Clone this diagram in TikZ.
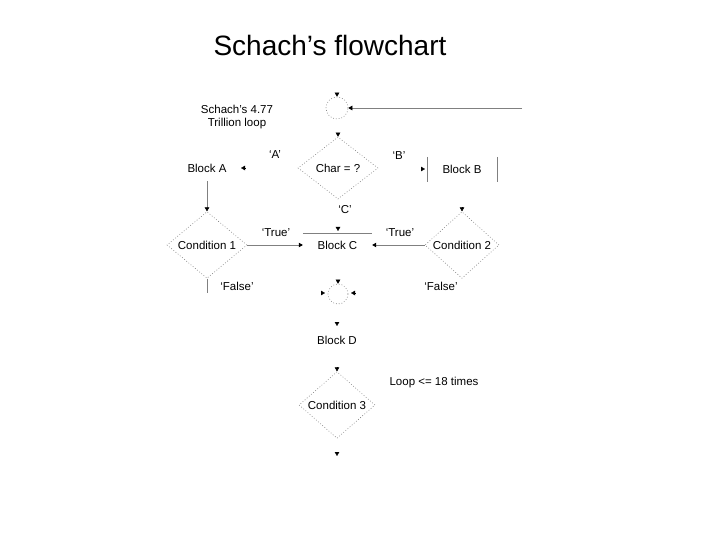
\documentclass[tikz,border=0pt]{standalone}
\usepackage{fontspec}
\setmainfont{Liberation Sans}
\usetikzlibrary{shapes.geometric,arrows.meta,calc}
\begin{document}
\begin{tikzpicture}[x=1pt,y=-1pt,
  lbl/.style={font=\fontsize{11.5}{13}\selectfont, inner sep=0pt},
  dmd/.style={diamond, draw=gray, dash pattern=on 0.8pt off 2pt, line width=0.6pt, minimum width=80pt, minimum height=62pt, inner sep=0pt, font=\fontsize{11.5}{13}\selectfont},
  crc/.style={circle, draw=gray, dash pattern=on 0.8pt off 2pt, line width=0.6pt, minimum size=22pt, inner sep=0pt},
  tip/.style={-{Triangle[length=4pt,width=4.5pt]}, black},
  wire/.style={draw=gray, line width=0.6pt},
  wtip/.style={wire, -{Triangle[length=4pt,width=4.5pt,color=black]}},
]
\useasboundingbox (0,0) rectangle (720,540);
\node[font=\fontsize{28}{30}\selectfont] (title) at (330,45) {Schach’s flowchart};
\node[crc] (lp) at (337,108) {};
\node[lbl, align=center] (tl) at (237,117) {Schach’s 4.77\\Trillion loop};
\node[dmd] (chr) at (338,168) {Char = ?};
\node[lbl] (qa) at (275,155) {‘A’};
\node[lbl] (qb) at (399,156) {‘B’};
\node[lbl, minimum height=26pt] (ba) at (207,168) {Block A};
\node[lbl, minimum width=70pt, minimum height=25pt] (bb) at (462,169.5) {Block B};
\node[lbl] (qc) at (345,210) {‘C’};
\node[dmd] (c1) at (207,245) {Condition 1};
\node[lbl, minimum width=69pt, minimum height=24pt] (bc) at (337.5,245) {Block C};
\node[dmd, minimum width=74pt] (c2) at (462,245) {Condition 2};
\node[lbl] (t1) at (276,233) {‘True’};
\node[lbl] (t2) at (400,233) {‘True’};
\node[lbl] (f1) at (237,286) {‘False’};
\node[lbl] (f2) at (441,286) {‘False’};
\node[crc, minimum size=20pt] (sc) at (338,294) {};
\node[lbl] (bd) at (337,340) {Block D};
\node[dmd, minimum width=76pt] (c3) at (337,405) {Condition 3};
\node[lbl] (lpl) at (434,383) {Loop <= 18 times};
\coordinate (rin) at (522,108);
\coordinate (c1out) at (207,293);
\coordinate (tA) at (241,168);
\coordinate (tB) at (425,169);
\coordinate (tBC) at (338,231);
\coordinate (tCl) at (325,293);
\coordinate (tCr) at (351,293);
\coordinate (tD) at (337,326);
\coordinate (tE) at (337,456);
\draw[wtip] (rin) -- (lp.east);
\draw[wtip] (ba.south) -- (c1.north);
\draw[wire] (c1.south) -- (c1out);
\draw[wtip] (c1.east) -- (bc.west);
\draw[wtip] (c2.west) -- (bc.east);
\draw[wire] (bc.north west) -- (bc.north east);
\draw[wire] (bb.north west) -- (bb.south west);
\draw[wire] (bb.north east) -- (bb.south east);
\draw[tip] ($(lp.north)+(0,-4)$) -- (lp.north);
\draw[tip] ($(chr.north)+(0,-4)$) -- (chr.north);
\draw[tip] ($(tA)+(4,0)$) -- (tA);
\draw[tip] ($(tB)+(-4,0)$) -- (tB);
\draw[tip] ($(tBC)+(0,-4)$) -- (tBC);
\draw[tip] ($(c2.north)+(0,-4)$) -- (c2.north);
\draw[tip] ($(sc.north)+(0,-4)$) -- (sc.north);
\draw[tip] ($(tCl)+(-4,0)$) -- (tCl);
\draw[tip] ($(tCr)+(4,0)$) -- (tCr);
\draw[tip] ($(tD)+(0,-4)$) -- (tD);
\draw[tip] ($(c3.north)+(0,-4)$) -- (c3.north);
\draw[tip] ($(tE)+(0,-4)$) -- (tE);
\end{tikzpicture}
\end{document}
